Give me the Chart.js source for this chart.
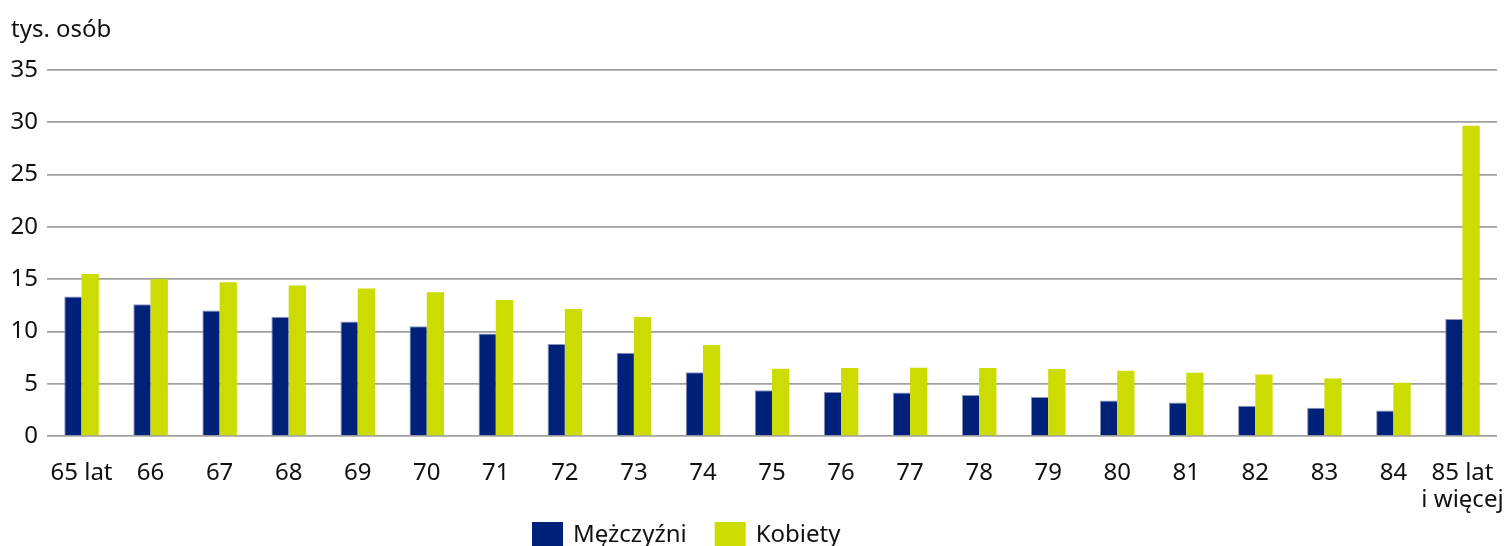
<!DOCTYPE html>
<html>
<head>
<meta charset="utf-8">
<script src="https://cdn.jsdelivr.net/npm/chart.js@4"></script>
<style>
html,body{margin:0;padding:0;background:#fff;overflow:hidden;}
#wrap{width:1509px;height:546px;position:relative;}
</style>
</head>
<body>
<div id="wrap"><canvas id="c" width="1509" height="546"></canvas></div>
<script>
const categories = ['65 lat','66','67','68','69','70','71','72','73','74','75','76','77','78','79','80','81','82','83','84',['85 lat','i więcej']];
const men   = [13.35,12.6,12.0,11.4,10.95,10.5,9.8,8.8,7.97,6.1,4.37,4.2,4.15,3.93,3.74,3.39,3.2,2.9,2.69,2.43,11.18];
const women = [15.5,15.0,14.7,14.4,14.1,13.75,13.0,12.15,11.37,8.7,6.44,6.5,6.53,6.5,6.4,6.25,6.06,5.87,5.49,5.1,29.66];
const seriesNames = ['Mężczyźni','Kobiety'];
const unitLabel = 'tys. osób';
const yMax = 35, yStep = 5;

const FONT = '"Noto Sans", "Open Sans", sans-serif';
const NAVY = '#00217a', LIME = '#ccdb00';

const extras = {
  id: 'extras',
  afterDraw(chart) {
    const ctx = chart.ctx;
    ctx.save();
    ctx.fillStyle = '#111';
    ctx.font = '24px ' + FONT;
    ctx.textBaseline = 'alphabetic';
    ctx.textAlign = 'left';
    ctx.fillText(unitLabel, 11, 37);
    let x = 532;
    const top = 522;
    chart.data.datasets.forEach((ds) => {
      ctx.fillStyle = ds.backgroundColor;
      ctx.fillRect(x, top, 31, 26);
      ctx.fillStyle = '#111';
      ctx.font = '24px ' + FONT;
      ctx.fillText(ds.label, x + 41, 542);
      x += 41 + ctx.measureText(ds.label).width + 28;
    });
    ctx.restore();
  }
};

new Chart(document.getElementById('c'), {
  type: 'bar',
  data: {
    labels: categories,
    datasets: [
      {label: seriesNames[0], data: men, backgroundColor: NAVY, borderColor: '#8a93b8', borderWidth: {top:1,left:1,right:0,bottom:0}},
      {label: seriesNames[1], data: women, backgroundColor: LIME, borderWidth: 0}
    ]
  },
  options: {
    responsive: false,
    animation: false,
    events: [],
    layout: {padding: {top: 70, right: 12, left: 0, bottom: 0}},
    datasets: {bar: {categoryPercentage: 0.5, barPercentage: 1.0}},
    plugins: {legend: {display: false}, title: {display: false}, tooltip: {enabled: false}},
    scales: {
      x: {
        grid: {display: false},
        border: {display: false},
        ticks: {color: '#111', font: {family: FONT, size: 24, lineHeight: 1.125}, padding: 16, maxRotation: 0, autoSkip: false},
        afterFit(s) { s.height = 110; s.paddingLeft = 0; s.paddingRight = 0; }
      },
      y: {
        min: 0, max: yMax,
        ticks: {stepSize: yStep, color: '#111', font: {family: FONT, size: 24}, padding: 9},
        grid: {color: '#a0a0a0', lineWidth: 1.7, drawTicks: false},
        border: {display: false},
        afterFit(s) { s.width = 47; s.paddingTop = 0; s.paddingBottom = 0; }
      }
    }
  },
  plugins: [extras]
});
</script>
</body>
</html>
